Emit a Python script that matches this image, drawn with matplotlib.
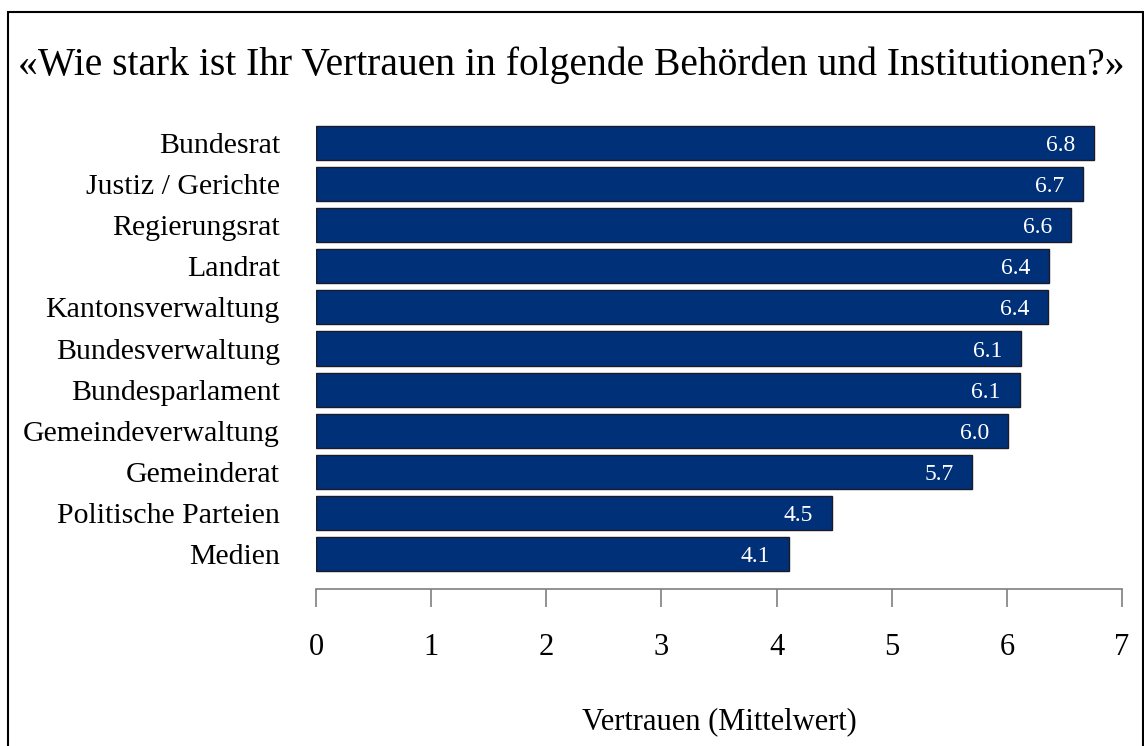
import matplotlib.pyplot as plt
from matplotlib.patches import Rectangle

plt.rcParams['font.family'] = ['Liberation Serif', 'DejaVu Serif']

categories = ['Bundesrat', 'Justiz / Gerichte', 'Regierungsrat', 'Landrat',
              'Kantonsverwaltung', 'Bundesverwaltung', 'Bundesparlament',
              'Gemeindeverwaltung', 'Gemeinderat', 'Politische Parteien', 'Medien']
values = [6.76, 6.66, 6.56, 6.37, 6.36, 6.12, 6.11, 6.01, 5.70, 4.48, 4.11]
xticks = [0, 1, 2, 3, 4, 5, 6, 7]

W, H = 1144, 746
fig = plt.figure(figsize=(W / 100, H / 100), dpi=100)
ax = fig.add_axes([316 / W, 1 - 589 / H, (1122 - 316) / W, (589 - 120) / H])

pos = list(range(len(categories)))
ax.barh(pos, values, height=0.83, color='#003078', edgecolor='#1a1a2a', linewidth=1)
for p, v in zip(pos, values):
    ax.annotate(f'{v:.1f}', (v, p), xytext=(-13.5, 0), textcoords='offset points',
                ha='right', va='center_baseline', color='white', fontsize=17)

ax.set_xlim(0, 7)
ax.set_ylim(10.85, -0.56)
ax.set_yticks(pos)
ax.set_yticklabels(categories, fontsize=21.5)
ax.set_xticks(xticks)
ax.set_xticklabels([str(t) for t in xticks], fontsize=22)
ax.tick_params(axis='y', length=0, pad=26)
ax.tick_params(axis='x', length=13, width=1.2, color='#7f7f7f', pad=18.5)
for s in ['top', 'right', 'left']:
    ax.spines[s].set_visible(False)
ax.spines['bottom'].set_color('#7f7f7f')
ax.spines['bottom'].set_linewidth(1.2)

ax.set_xlabel('Vertrauen (Mittelwert)', fontsize=22, labelpad=33)

fig.text(18 / W, 1 - 65 / H, '«Wie stark ist Ihr Vertrauen in folgende Behörden und Institutionen?»',
         fontsize=28.5, ha='left', va='center')

fig.patches.append(Rectangle((8 / W, -0.01), (W - 9) / W, 1 - 12 / H + 0.01,
                             transform=fig.transFigure, fill=False,
                             edgecolor='black', linewidth=1.5))

fig.savefig('out.png', dpi=100)
